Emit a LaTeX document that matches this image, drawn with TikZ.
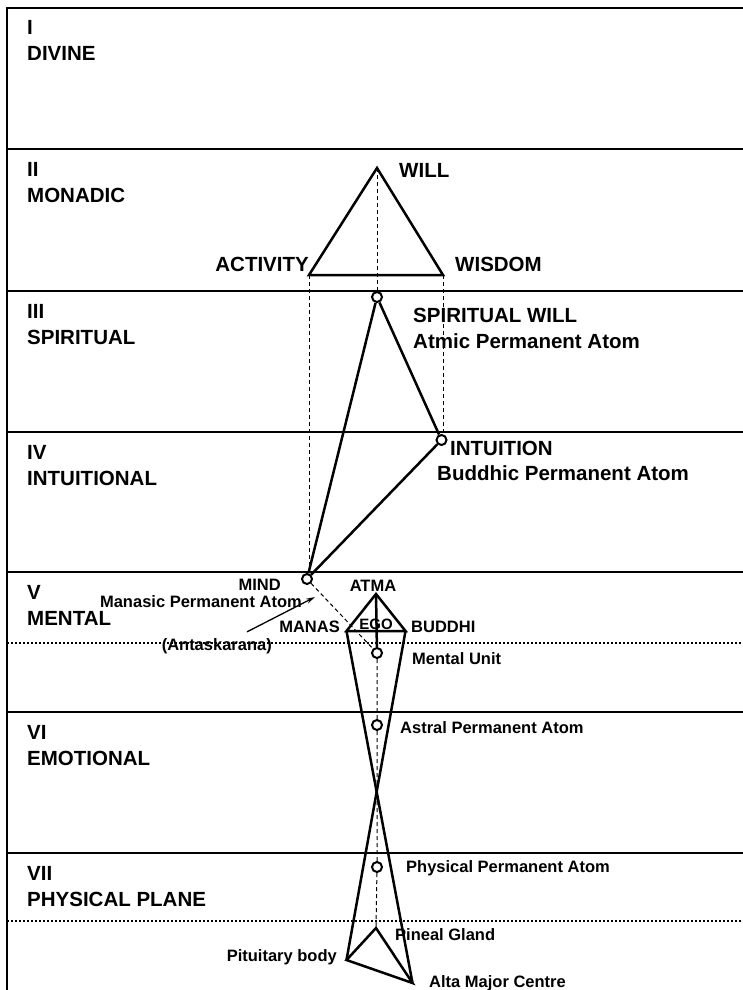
\documentclass[tikz,border=0pt]{standalone}
\usepackage{fontspec}
\setmainfont{Liberation Sans}
\usetikzlibrary{arrows.meta}

\tikzset{
	plane/.style = {line width=2pt},
	link/.style = {line width=2.5pt, line join=miter},
	guide/.style = {line width=1pt, dash pattern=on 4pt off 3pt},
	subplane/.style = {line width=1.6pt, dash pattern=on 1.6pt off 2.4pt},
	atom/.style = {circle, draw, line width=2pt, minimum size=10pt, inner sep=0pt, fill=white},
	bigtext/.style = {inner sep=0pt, font=\fontsize{20.5}{25}\selectfont\bfseries},
	smalltext/.style = {inner sep=0pt, font=\fontsize{16.5}{20}\selectfont\bfseries}
}

\begin{document}
\begin{tikzpicture}[x=1pt, y=-1pt]
	\useasboundingbox (0,0) rectangle (743,990);

	% planes
	\draw[plane] (7,990) -- (7,8) -- (743,8);
	\foreach \y/\num/\name in {8/I/DIVINE, 149/II/MONADIC, 291/III/SPIRITUAL,
		432/IV/INTUITIONAL, 572/V/MENTAL, 712/VI/EMOTIONAL, 853/VII/PHYSICAL PLANE}{
		\draw[plane] (7,\y) -- (743,\y);
		\node[bigtext, anchor=base west] (num\num) at (27,\y+27) {\num};
		\node[bigtext, anchor=base west] (name\num) at (27,\y+53) {\name};
	}
	\draw[subplane] (7,643) -- (743,643);
	\draw[subplane] (7,921) -- (743,921);

	% points
	\coordinate (will) at (377,168);
	\coordinate (act) at (309,275);
	\coordinate (wis) at (443,275);
	\coordinate (atma) at (376,594);
	\coordinate (manas) at (346.5,631);
	\coordinate (buddhi) at (405.5,631);
	\coordinate (pineal) at (376,928);
	\coordinate (pitu) at (346.5,960);
	\coordinate (alta) at (412.5,983);

	\node[atom] (sw) at (377,297) {};
	\node[atom] (intu) at (441.5,440) {};
	\node[atom] (mind) at (307,579) {};
	\node[atom] (unit) at (377,653) {};
	\node[atom] (astral) at (377,725) {};
	\node[atom] (phys) at (377,867) {};

	% dashed guides
	\draw[guide] (will) -- (sw);
	\draw[guide] (act) -- (act |- mind.north);
	\draw[guide] (wis) -- (wis |- intu.north);
	\draw[guide] (mind) -- (unit);
	\draw[guide] (unit) -- (astral) -- (phys) -- (pineal);

	% triangles
	\draw[link] (will) -- (act) -- (wis) -- cycle;
	\draw[link] (sw) -- (intu);
	\draw[link] (sw) -- (mind);
	\draw[link] (intu) -- (mind);
	\draw[link] (atma) -- (manas) -- (buddhi) -- cycle;
	\draw[link] (atma) -- (unit);
	\draw[link] (manas) -- (alta);
	\draw[link] (buddhi) -- (pitu);
	\draw[link] (pineal) -- (pitu) -- (alta) -- cycle;

	% labels
	\node[bigtext, anchor=base west] (twill) at (399,177) {WILL};
	\node[bigtext, anchor=base east] (tact) at (309,271) {ACTIVITY};
	\node[bigtext, anchor=base west] (twis) at (455,271) {WISDOM};
	\node[bigtext, anchor=base west] (tsw) at (413,322) {SPIRITUAL WILL};
	\node[bigtext, anchor=base west] (tatmic) at (413,348) {Atmic Permanent Atom};
	\node[bigtext, anchor=base west] (tintu) at (450,455) {INTUITION};
	\node[bigtext, anchor=base west] (tbud) at (437,480) {Buddhic Permanent Atom};

	\node[smalltext, anchor=base east] (tmind) at (281,590) {MIND};
	\node[smalltext, anchor=base] (tatma) at (373,591) {ATMA};
	\node[smalltext, anchor=base east] (tmanasic) at (302,607) {Manasic Permanent Atom};
	\node[smalltext, anchor=base east] (tmanas) at (340,632) {MANAS};
	\node[smalltext, anchor=base, font=\fontsize{15}{18}\selectfont\bfseries] (tego) at (376,629) {EGO};
	\node[smalltext, anchor=base west] (tbuddhi) at (411,632) {BUDDHI};
	\node[smalltext, anchor=base east] (tantas) at (272,650) {(Antaskarana)};
	\node[smalltext, anchor=base west] (tunit) at (412,664) {Mental Unit};
	\node[smalltext, anchor=base west] (tastral) at (400,733) {Astral Permanent Atom};
	\node[smalltext, anchor=base west] (tphys) at (406,872) {Physical Permanent Atom};
	\node[smalltext, anchor=base west] (tpineal) at (395,940) {Pineal Gland};
	\node[smalltext, anchor=base east] (tpitu) at (337,961) {Pituitary body};
	\node[smalltext, anchor=base west] (talta) at (429,987) {Alta Major Centre};

	\coordinate (tip) at (315,597);
	\draw[line width=1.3pt, -{Stealth[length=9pt, width=5pt]}] (tantas.north east) ++(-25,-6) -- (tip);
\end{tikzpicture}
\end{document}
